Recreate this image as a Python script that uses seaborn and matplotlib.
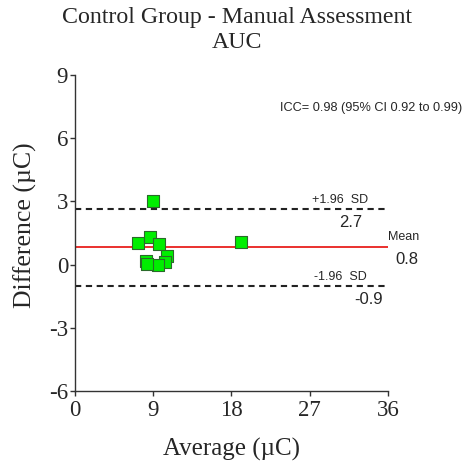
import matplotlib
matplotlib.use("Agg")
import matplotlib.pyplot as plt
import seaborn as sns
import pandas as pd

# Data
avg_vals = [9.0, 7.3, 8.6, 9.7, 19.1, 10.6, 10.3, 9.5, 8.2, 8.25]
diff_vals = [3.03, 1.01, 1.31, 0.96, 1.06, 0.41, 0.11, -0.03, 0.19, 0.05]
mean_diff = 0.83
upper_loa = 2.66
lower_loa = -1.0
mean_label = "0.8"
upper_label = "2.7"
lower_label = "-0.9"
x_ticks = [0, 9, 18, 27, 36]
y_ticks = [-6, -3, 0, 3, 6, 9]
title = "Control Group - Manual Assessment\nAUC"
icc_text = "ICC= 0.98 (95% CI 0.92 to 0.99)"

df = pd.DataFrame({"Average": avg_vals, "Difference": diff_vals})

sns.set_style("ticks")
serif = ["Liberation Serif", "DejaVu Serif"]
sans = ["Liberation Sans", "DejaVu Sans"]

fig = plt.figure(figsize=(4.75, 4.71), dpi=100)
ax = fig.add_axes([75/475, 80/471, 313/475, 316/471])

ax.axhline(mean_diff, color="#e8201c", lw=1.3, zorder=1)
ax.axhline(upper_loa, color="#222222", lw=1.5, ls=(0, (3, 2.2)), zorder=1)
ax.axhline(lower_loa, color="#222222", lw=1.5, ls=(0, (3, 2.2)), zorder=1)

sns.scatterplot(data=df, x="Average", y="Difference", ax=ax, marker="s",
                s=75, color="#00ee00", edgecolor="#2a6a2a", linewidth=0.8, zorder=3)

ax.set_xlim(0, 36)
ax.set_ylim(-6, 9)
ax.set_xticks(x_ticks)
ax.set_yticks(y_ticks)
ax.set_xticklabels([str(t) for t in x_ticks], family=serif, fontsize=16.5)
ax.set_yticklabels([str(t) for t in y_ticks], family=serif, fontsize=16.5)
ax.tick_params(axis="both", direction="out", length=3.5, width=1, color="#333333", pad=1.5)
ax.tick_params(axis="x", pad=3)
ax.set_xlabel("Average (µC)", family=serif, fontsize=18, labelpad=12)
ax.set_ylabel("Difference (µC)", family=serif, fontsize=18.5)
ax.yaxis.set_label_coords(-0.12, 0.525)
for s in ["top", "right"]:
    ax.spines[s].set_visible(False)
for s in ["left", "bottom"]:
    ax.spines[s].set_color("#333333")
    ax.spines[s].set_linewidth(1)

fig.text(0.5, 1 - 30/471, title, ha="center", va="center", family=serif,
         fontsize=17.2, linespacing=1.25)

ax.text(23.6, 7.43, icc_text, family=sans, fontsize=9.2, ha="left", va="center",
        clip_on=False)
ax.text(30.5, 3.07, "+1.96  SD", family=sans, fontsize=9, ha="center", va="center")
ax.text(30.5, -0.59, "-1.96  SD", family=sans, fontsize=9, ha="center", va="center")
ax.text(31.7, 2.02, upper_label, family=sans, fontsize=12, ha="center", va="center")
ax.text(33.8, -1.68, lower_label, family=sans, fontsize=12, ha="center", va="center")
ax.text(36.0, 1.31, "Mean", family=sans, fontsize=9, ha="left", va="center", clip_on=False)
ax.text(38.2, 0.22, mean_label, family=sans, fontsize=12, ha="center", va="center", clip_on=False)

fig.savefig("out.png", dpi=100)
